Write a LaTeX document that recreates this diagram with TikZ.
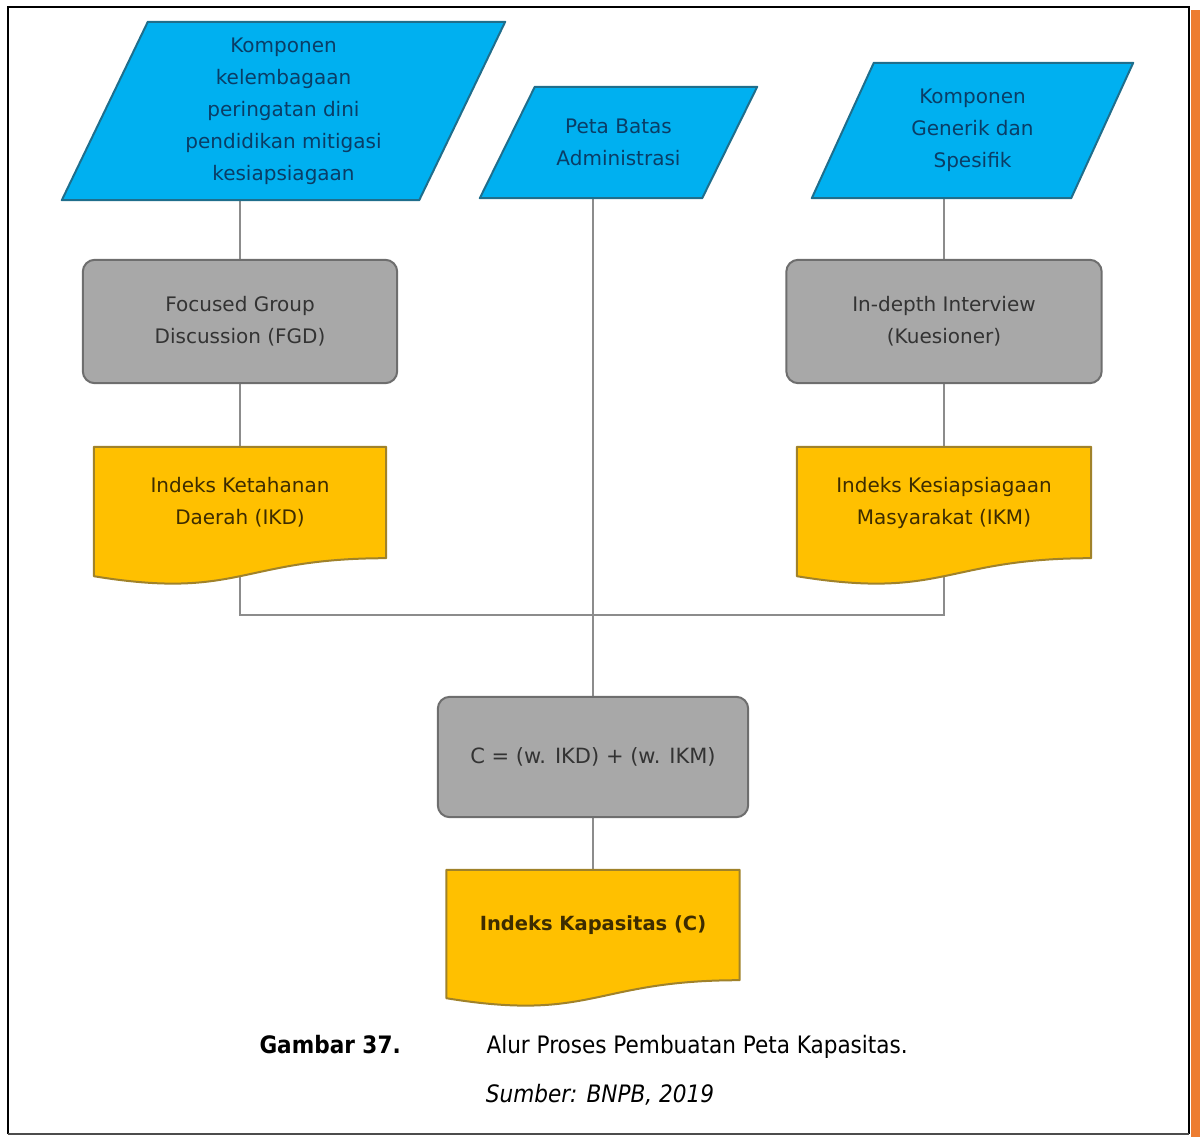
\documentclass[tikz,border=0pt]{standalone}
\usepackage{fontspec}
\setmainfont{DejaVu Sans Condensed}
\newfontfamily\boxfont{DejaVu Sans}
\usetikzlibrary{calc}
\pgfdeclarelayer{lines}
\pgfdeclarelayer{shapes}
\pgfsetlayers{lines,shapes,main}

\definecolor{inblue}{HTML}{00B0F0}
\definecolor{inblueline}{HTML}{1F6E8C}
\definecolor{intext}{HTML}{0A3D66}
\definecolor{procgray}{HTML}{A8A8A8}
\definecolor{procline}{HTML}{6E6E6E}
\definecolor{proctext}{HTML}{333333}
\definecolor{docyellow}{HTML}{FFC000}
\definecolor{docline}{HTML}{A0822A}
\definecolor{doctext}{HTML}{3D2C00}
\definecolor{connline}{HTML}{8C8C8C}
\definecolor{sidebar}{HTML}{ED7D31}

\tikzset{
  box/.style={inner sep=0pt, align=center, font=\boxfont\fontsize{20}{32}\selectfont},
  inputbox/.style={box, text=intext},
  procbox/.style={box, text=proctext},
  docbox/.style={box, text=doctext},
  inshape/.style={fill=inblue, draw=inblueline, line width=2pt, line join=round},
  procshape/.style={fill=procgray, draw=procline, line width=2pt, rounded corners=12pt},
  docshape/.style={fill=docyellow, draw=docline, line width=2pt, line join=round},
  conn/.style={draw=connline, line width=2pt},
}

% parallelogram around a node: #1 node, #2 horizontal slant
\newcommand\slantbox[2]{($(#1.north west)+(#2pt,0)$) -- (#1.north east) -- ($(#1.south east)-(#2pt,0)$) -- (#1.south west) -- cycle}
% document shape: straight part is the node, wavy edge hangs below it
\newcommand\docedge[1]{(#1.north west) -- (#1.north east) -- (#1.south east) .. controls (#1.south) and ($(#1.south)+(0,-42pt)$) .. ($(#1.south west)+(0,-18pt)$) -- cycle}

\begin{document}
\begin{tikzpicture}[x=1pt, y=-1pt]
\useasboundingbox (0,0) rectangle (1200,1137);

% page frame and side bar
\fill[sidebar] (1191,10) rectangle (1200,1137);
\draw[black, line width=2.5pt] (8,1134) -- (8,7) -- (1189,7) -- (1189,1134);
\draw[black!70, line width=1.5pt] (8,1134) -- (1189,1134);

% inputs
\node[inputbox, minimum width=443pt, minimum height=178pt] (kel) at (283.5,111)
  {Komponen\\kelembagaan\\peringatan dini\\pendidikan mitigasi\\kesiapsiagaan};
\node[inputbox, minimum width=277pt, minimum height=111pt] (peta) at (618.5,142.5)
  {Peta Batas\\Administrasi};
\node[inputbox, minimum width=321pt, minimum height=135pt] (komp) at (972.5,130.5)
  {Komponen\\Generik dan\\Spesifik};

% processes
\node[procbox, minimum width=314pt, minimum height=123pt] (fgd) at (240,321.5)
  {Focused Group\\Discussion (FGD)};
\node[procbox, minimum width=315pt, minimum height=123pt] (iin) at (944,321.5)
  {In-depth Interview\\(Kuesioner)};
\node[procbox, minimum width=310pt, minimum height=120pt, font=\boxfont\fontsize{21}{32}\selectfont] (calc) at (593,757)
  {C = (w. IKD) + (w. IKM)};

% documents
\node[docbox, minimum width=292pt, minimum height=111pt] (ikd) at (240,502.5)
  {Indeks Ketahanan\\Daerah (IKD)};
\node[docbox, minimum width=294pt, minimum height=111pt] (ikm) at (944,502.5)
  {Indeks Kesiapsiagaan\\Masyarakat (IKM)};
\node[docbox, minimum width=293pt, minimum height=110pt, font=\boxfont\fontsize{19.5}{32}\selectfont\bfseries] (cap) at (593,925)
  {Indeks Kapasitas (C)};

\coordinate (join) at (593,615);

\begin{pgfonlayer}{shapes}
  \path[inshape] \slantbox{kel}{86};
  \path[inshape] \slantbox{peta}{55};
  \path[inshape] \slantbox{komp}{62};
  \path[procshape] (fgd.north west) rectangle (fgd.south east);
  \path[procshape] (iin.north west) rectangle (iin.south east);
  \path[procshape] (calc.north west) rectangle (calc.south east);
  \path[docshape] \docedge{ikd};
  \path[docshape] \docedge{ikm};
  \path[docshape] \docedge{cap};
\end{pgfonlayer}

\begin{pgfonlayer}{lines}
  \draw[conn] (fgd.north) -- (fgd.north |- kel.south);
  \draw[conn] (fgd.south) -- (ikd.north);
  \draw[conn] (iin.north) -- (iin.north |- komp.south);
  \draw[conn] (iin.south) -- (ikm.north);
  \draw[conn] (ikd.south) |- (join) -| (ikm.south);
  \draw[conn] (calc.north |- peta.south) -- (calc.north);
  \draw[conn] (calc.south) -- (cap.north);
\end{pgfonlayer}

% caption
\node[anchor=base west, font=\fontsize{24}{28}\selectfont\bfseries] (fig) at (256,1053) {Gambar 37.};
\node[anchor=base west, font=\fontsize{24}{28}\selectfont] (title) at (483,1053) {Alur Proses Pembuatan Peta Kapasitas.};
\node[anchor=base, font=\fontsize{24}{28}\selectfont\itshape] (src) at (600,1102) {Sumber: BNPB, 2019};
\end{tikzpicture}
\end{document}
